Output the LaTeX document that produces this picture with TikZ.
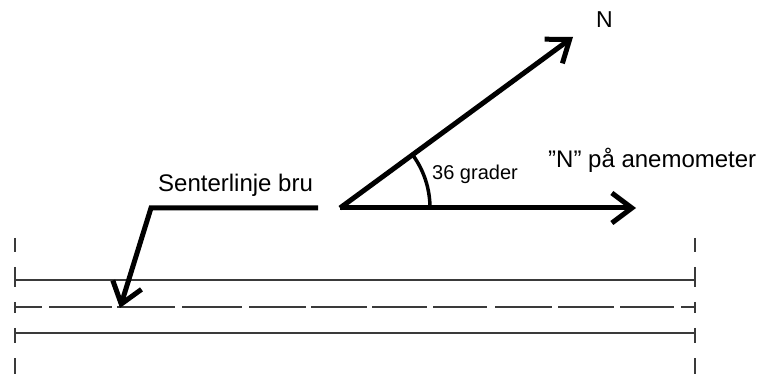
\documentclass[tikz,border=0pt]{standalone}
\usepackage{fontspec}
\setmainfont{Liberation Sans}
\usetikzlibrary{arrows.meta}
\definecolor{railgray}{HTML}{3a3a3a}

\begin{document}
\begin{tikzpicture}[
    x=1pt, y=-1pt,
    >={Straight Barb[length=20pt, width=30pt]},
    heavy/.style={line width=5pt, draw=black, line join=miter},
    anglearc/.style={line width=3.5pt, draw=black},
    railline/.style={line width=2pt, draw=railgray},
    lbl/.style={inner sep=0pt, anchor=base west, text=black},
]

\useasboundingbox (0,0) rectangle (769,374);

\def\xl{15}
\def\xr{695}

% ── Bridge: centre line and edges ──
\foreach \a/\b in {238/252, 267/287, 302/313, 328/343, 358/374} {
    \draw[railline] (\xl,\a) -- (\xl,\b);
    \draw[railline] (\xr,\a) -- (\xr,\b);
}
\draw[railline] (\xl,280) -- (\xr,280);
\draw[railline] (\xl,333) -- (\xr,333);
\foreach \a/\b in {15/42, 49/112, 117/175, 182/242, 249/306, 311/367,
                   372/427, 433/487, 495/552, 558/614, 620/674, 681/695} {
    \draw[railline] (\a,307) -- (\b,307);
}

% ── Directions ──
\coordinate (O) at (340,208);
\coordinate (nTip) at (573,37);
\coordinate (aTip) at (636,208);
\coordinate (bruEnd) at (318,208);
\coordinate (bruKnee) at (151,208);
\coordinate (bruTip) at (120,308);

\draw[heavy, ->] (O) -- (nTip);
\draw[heavy, ->] (O) -- (aTip);
\draw[heavy, ->] (bruEnd) -- (bruKnee) -- (bruTip);
\draw[anglearc] (430,208) arc[start angle=0, end angle=-36, radius=90];

% ── Labels ──
\node[lbl, font=\fontsize{23}{27}\selectfont] (nLbl) at (596,28) {N};
\node[lbl, font=\fontsize{24}{28}\selectfont] (anemoLbl) at (548,168)
    {\symbol{34}N\symbol{34} på anemometer};
\node[lbl, font=\fontsize{20}{24}\selectfont] (angleLbl) at (432,180) {36 grader};
\node[lbl, font=\fontsize{24}{28}\selectfont] (bruLbl) at (158,192) {Senterlinje bru};

\end{tikzpicture}
\end{document}
